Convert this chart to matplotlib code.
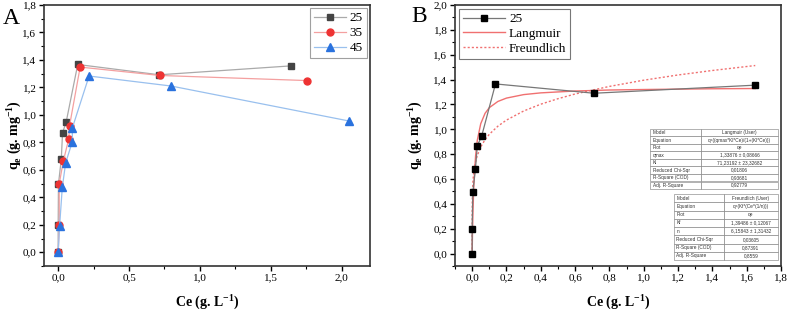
import matplotlib
matplotlib.use("Agg")
import matplotlib.pyplot as plt
from matplotlib.ticker import MultipleLocator, FuncFormatter

plt.rcParams['font.family'] = ['Liberation Serif', 'DejaVu Serif']
plt.rcParams['mathtext.fontset'] = 'custom'
plt.rcParams['mathtext.rm'] = 'Liberation Serif'
plt.rcParams['mathtext.bf'] = 'Liberation Serif:bold'

# ---- Panel A data ----
ce_25 = [0.0, 0.0, 0.002, 0.022, 0.031, 0.056, 0.138, 0.713, 1.645]
qe_25 = [0.0, 0.197, 0.496, 0.679, 0.871, 0.946, 1.367, 1.292, 1.357]
ce_35 = [0.0, 0.008, 0.007, 0.036, 0.075, 0.080, 0.155, 0.718, 1.753]
qe_35 = [0.0, 0.195, 0.496, 0.662, 0.827, 0.920, 1.348, 1.287, 1.250]
ce_45 = [0.0, 0.010, 0.029, 0.053, 0.100, 0.100, 0.218, 0.798, 2.050]
qe_45 = [0.0, 0.190, 0.472, 0.652, 0.805, 0.905, 1.283, 1.210, 0.956]
labels_A = ["25", "35", "45"]

# ---- Panel B data ----
ce_B = [0.0, 0.0, 0.004, 0.019, 0.030, 0.055, 0.136, 0.710, 1.650]
qe_B = [0.0, 0.197, 0.496, 0.679, 0.868, 0.943, 1.365, 1.290, 1.355]
ce_lang = [0.0, 0.002, 0.005, 0.01, 0.02, 0.03, 0.05, 0.075, 0.1, 0.15, 0.2, 0.3, 0.4, 0.6, 0.8, 1.0, 1.2, 1.4, 1.65]
q_lang = [0.0, 0.167, 0.352, 0.557, 0.787, 0.912, 1.045, 1.128, 1.174, 1.224, 1.251, 1.279, 1.293, 1.308, 1.316, 1.320, 1.323, 1.326, 1.328]
ce_freu = [0.0, 0.00001, 0.0001, 0.001, 0.005, 0.01, 0.02, 0.03, 0.05, 0.075, 0.1, 0.15, 0.2, 0.3, 0.4, 0.5, 0.6, 0.8, 1.0, 1.2, 1.4, 1.65]
q_freu = [0.0, 0.215, 0.313, 0.454, 0.590, 0.660, 0.739, 0.789, 0.858, 0.916, 0.960, 1.025, 1.074, 1.147, 1.202, 1.246, 1.284, 1.345, 1.395, 1.437, 1.473, 1.513]
labels_B = ["25", "Langmuir", "Freundlich"]

lang_table = [["Model", "Langmuir (User)"],
              ["Equation", "q=((qmax*Kl*Ce)/(1+(Kl*Ce)))"],
              ["Plot", "qe"],
              ["qmax", "1,33876 \u00b1 0,08666"],
              ["Kl", "71,23192 \u00b1 23,32682"],
              ["Reduced Chi-Sqr", "0,01806"],
              ["R-Square (COD)", "0,93681"],
              ["Adj. R-Square", "0,92779"]]
freu_table = [["Model", "Freundlich (User)"],
              ["Equation", "q=(Kf*(Ce^(1/n)))"],
              ["Plot", "qe"],
              ["Kf", "1,39486 \u00b1 0,12067"],
              ["n", "6,15843 \u00b1 1,31432"],
              ["Reduced Chi-Sqr", "0,03605"],
              ["R-Square (COD)", "0,87391"],
              ["Adj. R-Square", "0,8559"]]

W, H = 788, 310
fig = plt.figure(figsize=(W / 100, H / 100), dpi=100)

def ax_at(l, t, r, b):
    return fig.add_axes([l / W, 1 - b / H, (r - l) / W, (b - t) / H])

comma = FuncFormatter(lambda v, p: f"{v:.1f}".replace(".", ","))

def style(ax, ylab_x):
    for s in ax.spines.values():
        s.set_linewidth(1.2)
        s.set_color('#333333')
    ax.tick_params(which='major', direction='out', length=3.5, width=1, labelsize=8, pad=2)
    ax.tick_params(which='minor', direction='out', length=2, width=0.8)
    ax.xaxis.set_major_formatter(comma)
    ax.yaxis.set_major_formatter(comma)
    ax.set_xlabel("Ce (g. L$^{\\mathbf{-1}}$)", fontsize=10, fontweight='bold', labelpad=7)
    ax.set_ylabel("q$_\\mathbf{e}$ (g. mg$^{\\mathbf{-1}}$)", fontsize=10, fontweight='bold')
    ax.yaxis.set_label_coords(ylab_x, 0.5)

# Panel A
axA = ax_at(44, 5, 370, 266)
axA.plot(ce_25, qe_25, color='#aaaaaa', lw=0.9, marker='s', ms=4.2, mfc='#444444', mec='#444444', label=labels_A[0], zorder=3)
axA.plot(ce_35, qe_35, color='#f4a0a0', lw=0.9, marker='o', ms=5, mfc='#ee3333', mec='#ee3333', label=labels_A[1], zorder=4)
axA.plot(ce_45, qe_45, color='#99c0ee', lw=0.9, marker='^', ms=5.2, mfc='#2a72de', mec='#2a72de', label=labels_A[2], zorder=5)
axA.set_xlim(-0.1, 2.2)
axA.set_ylim(-0.1, 1.8)
axA.xaxis.set_major_locator(MultipleLocator(0.5))
axA.xaxis.set_minor_locator(MultipleLocator(0.25))
axA.yaxis.set_major_locator(MultipleLocator(0.2))
axA.yaxis.set_minor_locator(MultipleLocator(0.1))
style(axA, -0.064)
legA = axA.legend(loc='upper right', fontsize=9.5, frameon=True, fancybox=False, edgecolor='#888888',
                  handlelength=2.4, borderpad=0.3, labelspacing=0.2, handletextpad=0.3, borderaxespad=0.25)
legA.get_frame().set_linewidth(0.8)
fig.text(3 / W, 1 - 19 / H, "A", fontsize=17, va='center', ha='left')

# Panel B
axB = ax_at(455, 5, 781, 266)
axB.plot(ce_B, qe_B, color='#777777', lw=0.9, marker='s', ms=4.6, mfc='black', mec='black', label=labels_B[0], zorder=5)
axB.plot(ce_lang, q_lang, color='#f07070', lw=1.0, label=labels_B[1], zorder=3)
axB.plot(ce_freu, q_freu, color='#f07070', lw=1.0, ls=(0, (1.5, 1.5)), label=labels_B[2], zorder=3)
axB.set_xlim(-0.1, 1.8)
axB.set_ylim(-0.1, 2.0)
axB.xaxis.set_major_locator(MultipleLocator(0.2))
axB.xaxis.set_minor_locator(MultipleLocator(0.1))
axB.yaxis.set_major_locator(MultipleLocator(0.2))
axB.yaxis.set_minor_locator(MultipleLocator(0.1))
style(axB, -0.095)
legB = axB.legend(loc='upper left', fontsize=9.5, frameon=True, fancybox=False, edgecolor='#555555',
                  handlelength=3.2, borderpad=0.3, labelspacing=0.2, handletextpad=0.3, borderaxespad=0.3)
legB.get_frame().set_linewidth(0.8)
fig.text(411 / W, 1 - 17 / H, "B", fontsize=17, va='center', ha='left')

def draw_table(rows, l, t, r, b, split):
    tax = ax_at(l, t, r, b)
    tax.axis('off')
    tb = tax.table(cellText=rows, bbox=[0, 0, 1, 1], cellLoc='center',
                   colWidths=[(split - l) / (r - l), (r - split) / (r - l)])
    tb.auto_set_font_size(False)
    for (i, j), cell in tb.get_celld().items():
        cell.set_linewidth(0.4)
        cell.set_edgecolor('#777777')
        cell.get_text().set_fontsize(3.4)
        cell.get_text().set_fontfamily('Liberation Sans')
        cell.get_text().set_color('#333333')
        if j == 0:
            cell.get_text().set_ha('left')
            cell._loc = 'left'
            cell.PAD = 0.05

draw_table(lang_table, 650, 129, 778, 189, 701)
draw_table(freu_table, 674, 194, 778, 260, 724)

fig.savefig("out.png", dpi=100)
